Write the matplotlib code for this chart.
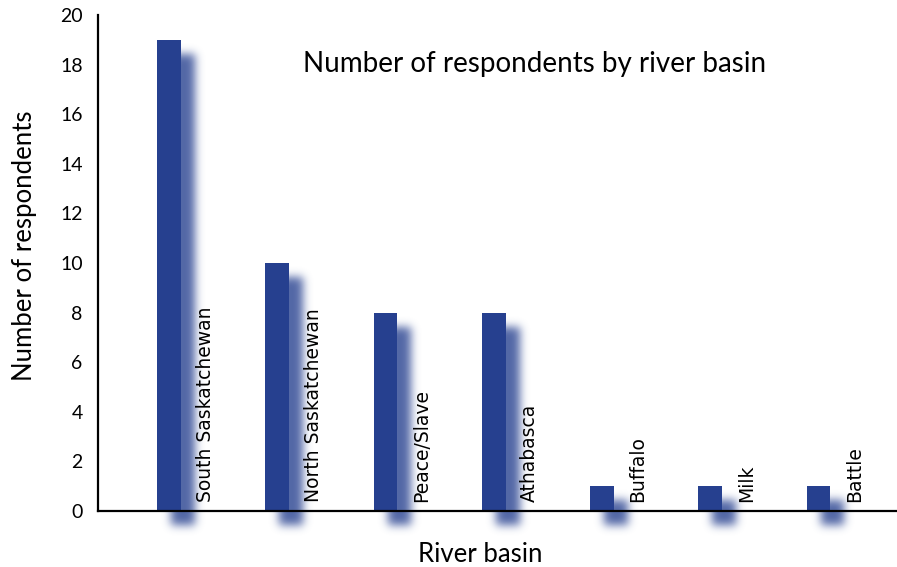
import numpy as np
import matplotlib
matplotlib.use("Agg")
import matplotlib.pyplot as plt
import matplotlib.transforms as mtransforms

# Survey data
basins = ["South Saskatchewan", "North Saskatchewan", "Peace/Slave", "Athabasca",
          "Buffalo", "Milk", "Battle"]
respondents = [19, 10, 8, 8, 1, 1, 1]
y_ticks = list(range(0, 21, 2))

bar_color = "#26408f"
W, H = 897, 567

fig = plt.figure(figsize=(W / 100, H / 100), dpi=100)
ax = fig.add_axes([98 / W, 56 / H, 799 / W, 496 / H])
ax.patch.set_visible(False)

x = np.arange(len(basins))
bar_w = 0.22
ax.bar(x, respondents, width=bar_w, color=bar_color, zorder=3)

ax.set_xlim(-0.656, 6.725)
ax.set_ylim(0, 20)
ax.set_yticks(y_ticks)
ax.set_xticks([])
ax.tick_params(axis="y", length=0, pad=11, labelsize=14)
for lbl in ax.get_yticklabels():
    lbl.set_fontfamily("Lato")

for side in ["top", "right"]:
    ax.spines[side].set_visible(False)
for side in ["left", "bottom"]:
    ax.spines[side].set_linewidth(1.6)
    ax.spines[side].set_color("black")
    ax.spines[side].set_zorder(4)

# basin names written upright next to each bar
offset = mtransforms.offset_copy(ax.transData, fig=fig, x=36, y=9, units="dots")
for xi, name in zip(x, basins):
    ax.text(xi, 0, name, rotation=90, ha="center", va="bottom",
            fontsize=13.5, family="DejaVu Sans", transform=offset, zorder=5)

fig.text(535 / W, 1 - 64 / H, "Number of respondents by river basin",
         ha="center", va="center", fontsize=20, family="Lato")
fig.text(25 / W, 1 - 246 / H, "Number of respondents", rotation=90,
         ha="center", va="center", fontsize=18.5, family="Lato")
fig.text(480 / W, 1 - 555 / H, "River basin",
         ha="center", va="center", fontsize=18.5, family="Lato")

# soft drop shadow behind the bars, blurred in pixel space
dx, dy, sigma = 14, 14, 4.5
mask = np.zeros((H, W))
for xi, v in zip(x, respondents):
    x0, y0 = ax.transData.transform((xi - bar_w / 2, 0))
    x1, y1 = ax.transData.transform((xi + bar_w / 2, v))
    c0, c1 = int(round(x0 + dx)), int(round(x1 + dx))
    r0, r1 = int(round(y0 - dy)), int(round(y1 - dy))
    mask[max(r0, 0):r1, c0:c1] = 1.0

k = np.arange(-int(3 * sigma), int(3 * sigma) + 1)
kernel = np.exp(-k ** 2 / (2 * sigma ** 2))
kernel /= kernel.sum()
mask = np.apply_along_axis(lambda r: np.convolve(r, kernel, mode="same"), 1, mask)
mask = np.apply_along_axis(lambda c: np.convolve(c, kernel, mode="same"), 0, mask)

rgb = matplotlib.colors.to_rgb(bar_color)
shadow = np.zeros((H, W, 4))
shadow[..., 0], shadow[..., 1], shadow[..., 2] = rgb
shadow[..., 3] = np.clip(mask * 0.8, 0, 1)
fig.figimage(shadow, 0, 0, origin="lower", zorder=-1)

fig.savefig("out.png", dpi=100)
